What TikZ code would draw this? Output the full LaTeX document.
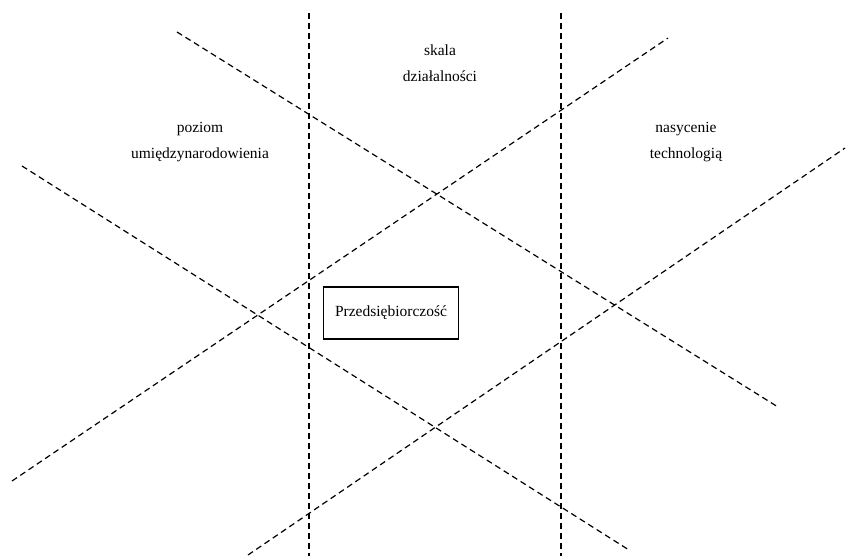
\documentclass[tikz,border=0pt]{standalone}
\usepackage{fontspec}
\setmainfont{Liberation Serif}
\begin{document}
\begin{tikzpicture}[x=1pt,y=-1pt,
  axis/.style={line width=1.2pt,dash pattern=on 6pt off 4pt},
  lbl/.style={align=center,font=\fontsize{15.5}{26}\selectfont},
  core/.style={draw,line width=1.2pt,minimum width=135pt,minimum height=52pt,font=\fontsize{15.5}{19}\selectfont}]
\useasboundingbox (0,0) rectangle (847,556);
% endpoints of the dashed axes
\coordinate (v1t) at (309,13);  \coordinate (v1b) at (309,556);
\coordinate (v2t) at (561,13);  \coordinate (v2b) at (561,556);
\coordinate (at) at (177,32);   \coordinate (ab) at (778,407);
\coordinate (bb) at (12,481);   \coordinate (bt) at (668,38);
\coordinate (ct) at (22,166);   \coordinate (cb) at (629,550);
\coordinate (db) at (248,555);  \coordinate (dt) at (845,148);
\draw[axis] (v1t) -- (v1b);
\draw[axis] (v2t) -- (v2b);
\draw[axis] (at) -- (ab);
\draw[axis] (bb) -- (bt);
\draw[axis] (ct) -- (cb);
\draw[axis] (db) -- (dt);
% labels
\node[lbl] (skala) at (440,63) {skala\\działalności};
\node[lbl] (poziom) at (200,142) {poziom\\umiędzynarodowienia};
\node[lbl] (tech) at (686,142) {nasycenie\\technologią};
\node[core,fill=white] (p) at (391,313) {Przedsiębiorczość};
\end{tikzpicture}
\end{document}
